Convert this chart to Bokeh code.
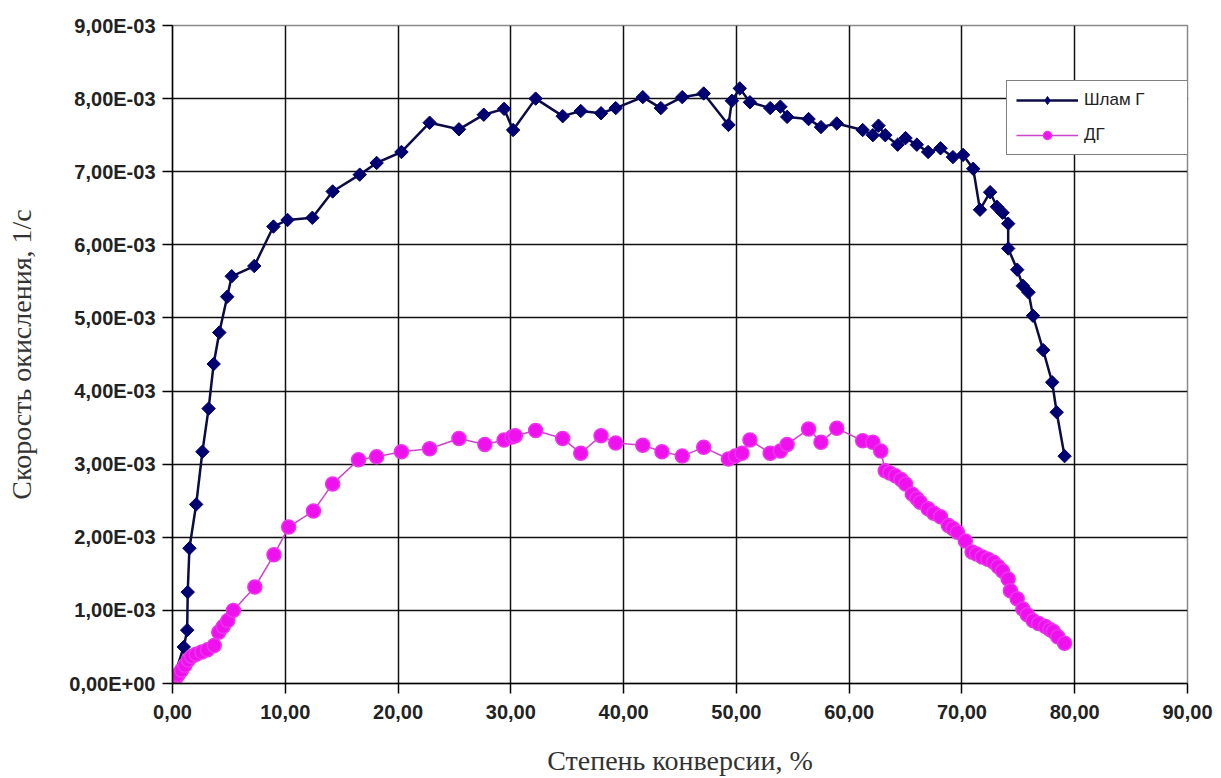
from bokeh.plotting import figure
from bokeh.models import FixedTicker, CustomJSTickFormatter, Range1d, Legend, LegendItem
from bokeh.embed import file_html
from bokeh.resources import INLINE

# ---- data ----
x_ticks = [0, 10, 20, 30, 40, 50, 60, 70, 80, 90]
y_ticks = [0.0, 1e-3, 2e-3, 3e-3, 4e-3, 5e-3, 6e-3, 7e-3, 8e-3, 9e-3]

shlam_x = [0.2, 1.0, 1.3, 1.35, 1.5, 2.1, 2.65, 3.2, 3.65, 4.15,
           4.85, 5.25, 7.25, 8.95, 10.2, 12.4, 14.2, 16.6, 18.1, 20.3,
           22.8, 25.4, 27.6, 29.4, 30.2, 32.2, 34.6, 36.2, 38.0, 39.3,
           41.7, 43.3, 45.2, 47.1, 49.3, 49.6, 50.3, 51.2, 53.0, 53.9,
           54.5, 56.4, 57.5, 58.9, 61.2, 62.1, 62.6, 63.2, 64.3, 65.0,
           66.0, 67.0, 68.1, 69.2, 70.1, 71.0, 71.6, 72.5, 73.1, 73.6,
           74.1, 74.1, 74.9, 75.4, 75.9, 76.3, 77.2, 78.0, 78.4, 79.1]
shlam_y = [0.12e-3, 0.50e-3, 0.73e-3, 1.25e-3, 1.85e-3, 2.45e-3, 3.17e-3, 3.76e-3, 4.37e-3, 4.80e-3,
           5.29e-3, 5.57e-3, 5.71e-3, 6.25e-3, 6.34e-3, 6.37e-3, 6.73e-3, 6.96e-3, 7.12e-3, 7.27e-3,
           7.67e-3, 7.58e-3, 7.78e-3, 7.86e-3, 7.57e-3, 8.00e-3, 7.76e-3, 7.83e-3, 7.80e-3, 7.87e-3,
           8.02e-3, 7.87e-3, 8.02e-3, 8.07e-3, 7.64e-3, 7.97e-3, 8.14e-3, 7.95e-3, 7.87e-3, 7.89e-3,
           7.75e-3, 7.72e-3, 7.61e-3, 7.66e-3, 7.57e-3, 7.50e-3, 7.63e-3, 7.50e-3, 7.37e-3, 7.46e-3,
           7.37e-3, 7.27e-3, 7.32e-3, 7.20e-3, 7.23e-3, 7.04e-3, 6.48e-3, 6.72e-3, 6.52e-3, 6.44e-3,
           6.29e-3, 5.95e-3, 5.66e-3, 5.44e-3, 5.35e-3, 5.03e-3, 4.56e-3, 4.12e-3, 3.71e-3, 3.11e-3]

dg_x = [0.1, 0.3, 0.5, 0.8, 1.1, 1.4, 1.7, 2.1, 2.6, 3.1,
        3.7, 4.1, 4.5, 4.9, 5.4, 7.3, 9.0, 10.3, 12.5, 14.2,
        16.5, 18.1, 20.3, 22.8, 25.4, 27.7, 29.4, 30.1, 30.4, 32.2,
        34.6, 36.2, 38.0, 39.3, 41.7, 43.4, 45.2, 47.1, 49.3, 49.9,
        50.5, 51.2, 53.0, 53.9, 54.5, 56.4, 57.5, 58.9, 61.2, 62.1,
        62.8, 63.2, 63.6, 64.1, 64.6, 65.0, 65.6, 66.0, 66.3, 67.0,
        67.5, 68.1, 68.8, 69.2, 69.6, 70.3, 70.9, 71.3, 71.8, 72.3,
        72.8, 73.2, 73.6, 74.1, 74.3, 74.9, 75.4, 75.8, 76.3, 76.8,
        77.4, 77.8, 78.1, 78.5, 79.1]
dg_y = [0.03e-3, 0.08e-3, 0.12e-3, 0.18e-3, 0.25e-3, 0.32e-3, 0.37e-3, 0.40e-3, 0.43e-3, 0.46e-3,
        0.52e-3, 0.70e-3, 0.78e-3, 0.86e-3, 1.00e-3, 1.32e-3, 1.76e-3, 2.14e-3, 2.36e-3, 2.73e-3,
        3.06e-3, 3.10e-3, 3.17e-3, 3.21e-3, 3.35e-3, 3.27e-3, 3.33e-3, 3.37e-3, 3.39e-3, 3.46e-3,
        3.35e-3, 3.15e-3, 3.39e-3, 3.29e-3, 3.26e-3, 3.17e-3, 3.11e-3, 3.23e-3, 3.07e-3, 3.11e-3,
        3.15e-3, 3.33e-3, 3.15e-3, 3.18e-3, 3.27e-3, 3.48e-3, 3.30e-3, 3.49e-3, 3.32e-3, 3.30e-3,
        3.18e-3, 2.91e-3, 2.88e-3, 2.84e-3, 2.79e-3, 2.73e-3, 2.59e-3, 2.53e-3, 2.48e-3, 2.39e-3,
        2.33e-3, 2.28e-3, 2.16e-3, 2.12e-3, 2.07e-3, 1.95e-3, 1.80e-3, 1.77e-3, 1.73e-3, 1.70e-3,
        1.66e-3, 1.60e-3, 1.54e-3, 1.43e-3, 1.27e-3, 1.16e-3, 1.02e-3, 0.94e-3, 0.86e-3, 0.82e-3,
        0.78e-3, 0.74e-3, 0.71e-3, 0.64e-3, 0.55e-3]

label_shlam = "Шлам Г"
label_dg = "ДГ"
x_title = "Степень конверсии, %"
y_title = "Скорость окисления, 1/с"

# ---- figure ----
p = figure(width=1221, height=778, output_backend="svg", toolbar_location=None,
           x_range=Range1d(0, 90), y_range=Range1d(0, 9e-3),
           min_border_left=172, min_border_right=34, min_border_top=25, min_border_bottom=93)
p.background_fill_color = "white"
p.border_fill_color = "white"
p.outline_line_color = "#8a8a8a"
p.outline_line_width = 1.5

# axes
p.xaxis.ticker = FixedTicker(ticks=x_ticks)
p.yaxis.ticker = FixedTicker(ticks=y_ticks)
p.xaxis.formatter = CustomJSTickFormatter(code="return tick.toFixed(2).replace('.', ',');")
p.yaxis.formatter = CustomJSTickFormatter(code="""
const s = tick.toExponential(2).split('e');
let e = parseInt(s[1]);
const sign = e < 0 ? '-' : '+';
e = Math.abs(e);
return s[0].replace('.', ',') + 'E' + sign + (e < 10 ? '0' : '') + e;
""")
for ax in (p.xaxis[0], p.yaxis[0]):
    ax.axis_line_color = "black"
    ax.axis_line_width = 1.5
    ax.major_tick_line_color = "black"
    ax.major_tick_line_width = 1.5
    ax.major_tick_out = 10
    ax.major_tick_in = 0
    ax.minor_tick_line_color = None
    ax.major_label_text_font = "Liberation Sans"
    ax.major_label_text_font_style = "bold"
    ax.major_label_text_font_size = "20px"
    ax.major_label_text_color = "#222222"
    ax.axis_label_text_font = "Liberation Serif"
    ax.axis_label_text_font_style = "normal"
    ax.axis_label_text_font_size = "28px"
    ax.axis_label_text_color = "#333333"

p.xaxis.axis_label = x_title
p.yaxis.axis_label = y_title
p.xaxis.major_label_standoff = 11
p.yaxis.major_label_standoff = 7
p.xaxis.axis_label_standoff = 23
p.yaxis.axis_label_standoff = 29

# grid
p.xgrid.ticker = FixedTicker(ticks=x_ticks[1:-1])
p.ygrid.ticker = FixedTicker(ticks=y_ticks[1:-1])
p.xgrid.grid_line_color = "#111111"
p.ygrid.grid_line_color = "#111111"
p.xgrid.grid_line_width = 1.5
p.ygrid.grid_line_width = 1.5

# series
r_l1 = p.line(shlam_x, shlam_y, line_color="#0b0b45", line_width=2.5)
r_m1 = p.scatter(shlam_x, shlam_y, marker="diamond", size=11, fill_color="#000070",
                 line_color="#000070")
p.scatter(shlam_x, shlam_y, marker="square", angle=0.785398, size=9.5, fill_color="#000070",
          line_color="#000070")

r_l2 = p.line(dg_x, dg_y, line_color="#cc44cc", line_width=1.5)
r_m2 = p.scatter(dg_x, dg_y, marker="circle", size=14, fill_color="#ee11ee",
                 line_color="#ee33ee", line_width=1.5)

# legend
lg = Legend(items=[LegendItem(label=label_shlam, renderers=[r_l1, r_m1]),
                   LegendItem(label=label_dg, renderers=[r_l2, r_m2])])
lg.location = (834, 528)
lg.border_line_color = "black"
lg.border_line_width = 1.5
lg.background_fill_color = "white"
lg.background_fill_alpha = 1.0
lg.padding = 9
lg.margin = 0
lg.spacing = 15
lg.glyph_width = 62
lg.glyph_height = 20
lg.label_height = 20
lg.label_width = 200
lg.label_standoff = 6
lg.label_text_font = "Liberation Sans"
lg.label_text_font_size = "17px"
lg.label_text_color = "#222222"
p.add_layout(lg, "center")

open("out.html", "w").write(file_html(p, INLINE))
